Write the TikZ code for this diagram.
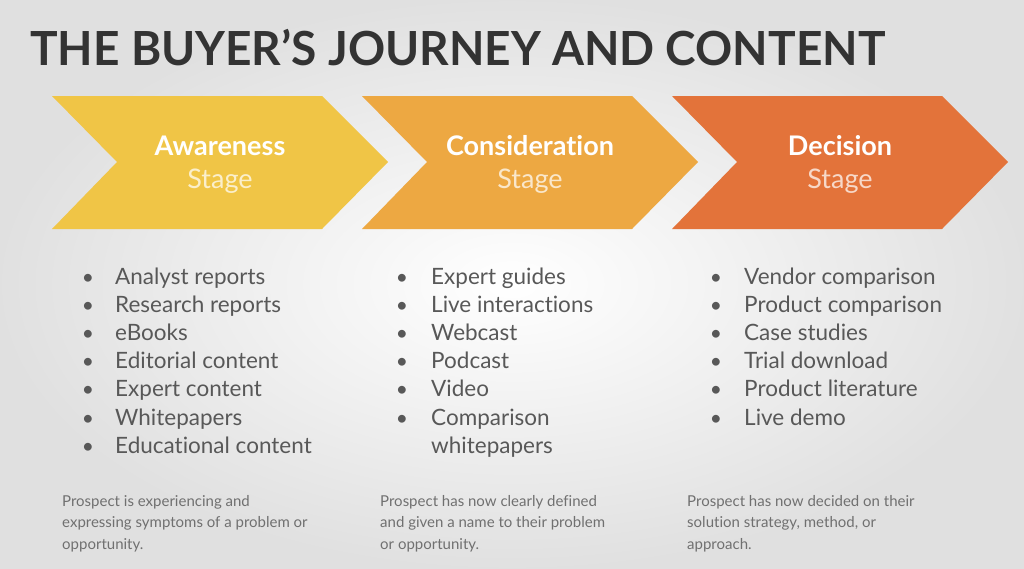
\documentclass[tikz,border=0pt]{standalone}
\usepackage{fontspec}
\setmainfont{Lato}[Ligatures=NoCommon]

\definecolor{awareness}{RGB}{240,197,70}
\definecolor{consider}{RGB}{237,168,66}
\definecolor{decision}{RGB}{227,115,58}
\definecolor{titlegray}{RGB}{51,51,51}
\definecolor{listgray}{RGB}{88,88,88}
\definecolor{notegray}{RGB}{112,112,112}

\tikzset{
  title/.style={anchor=base west, inner sep=0pt, xscale=0.98, text=titlegray, font=\fontsize{47}{56}\selectfont\bfseries},
  stagename/.style={anchor=base, inner sep=0pt, text=white, font=\fontsize{27}{32}\selectfont\bfseries},
  stagesub/.style={anchor=base, inner sep=0pt, font=\fontsize{27}{32}\selectfont},
  item/.style={anchor=base west, inner sep=0pt, text=listgray, font=\fontsize{22.5}{27}\selectfont},
  dot/.style={anchor=base, inner sep=0pt, text=listgray, font=\fontsize{21}{25}\selectfont},
  note/.style={anchor=north west, inner sep=0pt, align=left, text=notegray, font=\fontsize{15}{21.5}\selectfont}
}

\begin{document}
\begin{tikzpicture}[x=1pt,y=-1pt]
  \shade[inner color=white, outer color=black!12] (0,0) rectangle (1024,568);
  \useasboundingbox (0,0) rectangle (1024,568);

  \node[title] (title) at (30,65) {THE BUYER’S JOURNEY AND CONTENT};

  \foreach \x/\c/\n/\name in {52/awareness/aw/Awareness, 362/consider/co/Consideration, 672/decision/de/Decision}{
    \fill[\c] (\x,96) -- ++(270,0) -- ++(66,66) -- ++(-66,67) -- ++(-270,0) -- ++(65,-67) -- cycle;
    \node[stagename] (\n name) at (\x+168,155) {\name};
    \node[stagesub, text=white!72!\c] (\n stage) at (\x+168,188) {Stage};
  }

  \foreach \t [count=\i] in {Analyst reports, Research reports, eBooks, Editorial content, Expert content, Whitepapers, Educational content}{
    \node[dot] (awdot\i) at (88,{284+28.2*(\i-1)}) {\textbullet};
    \node[item] (awitem\i) at (115,{284+28.2*(\i-1)}) {\t};
  }
  \foreach \t [count=\i] in {Expert guides, Live interactions, Webcast, Podcast, Video, Comparison}{
    \node[dot] (codot\i) at (402,{284+28.2*(\i-1)}) {\textbullet};
    \node[item] (coitem\i) at (431,{284+28.2*(\i-1)}) {\t};
  }
  \node[item] (coitem7) at (431,453) {whitepapers};
  \foreach \t [count=\i] in {Vendor comparison, Product comparison, Case studies, Trial download, Product literature, Live demo}{
    \node[dot] (dedot\i) at (716,{284+28.2*(\i-1)}) {\textbullet};
    \node[item] (deitem\i) at (744,{284+28.2*(\i-1)}) {\t};
  }

  \node[note] (awnote) at (62,495) {Prospect is experiencing and\\expressing symptoms of a problem or\\opportunity.};
  \node[note] (conote) at (380,495) {Prospect has now clearly defined\\and given a name to their problem\\or opportunity.};
  \node[note] (denote) at (687,495) {Prospect has now decided on their\\solution strategy, method, or\\approach.};
\end{tikzpicture}
\end{document}
